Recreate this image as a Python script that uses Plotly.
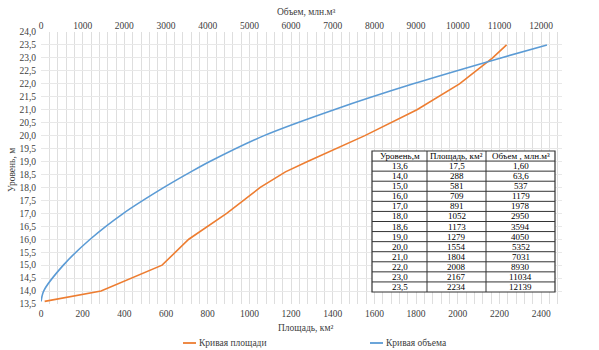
import plotly.graph_objects as go

levels = [13.6, 14.0, 15.0, 16.0, 17.0, 18.0, 18.6, 19.0, 20.0, 21.0, 22.0, 23.0, 23.5]
area = [17.5, 288, 581, 709, 891, 1052, 1173, 1279, 1554, 1804, 2008, 2167, 2234]
volume = [1.60, 63.6, 537, 1179, 1978, 2950, 3594, 4050, 5352, 7031, 8930, 11034, 12139]

level_txt = ["13,6", "14,0", "15,0", "16,0", "17,0", "18,0", "18,6", "19,0", "20,0", "21,0", "22,0", "23,0", "23,5"]
area_txt = ["17,5", "288", "581", "709", "891", "1052", "1173", "1279", "1554", "1804", "2008", "2167", "2234"]
vol_txt = ["1,60", "63,6", "537", "1179", "1978", "2950", "3594", "4050", "5352", "7031", "8930", "11034", "12139"]
headers = ["Уровень,м", "Площадь, км²", "Объем , млн.м³"]
series_names = ["Кривая площади", "Кривая объема"]

FONT = "Liberation Serif"
ORANGE = "#ED7D31"
BLUE = "#5B9BD5"
GRID = "#DEDEDE"
TXT = "#404040"

W, H = 599, 350
ML, MR, MT, MB = 41, 37, 32, 46
PW, PH = W - ML - MR, H - MT - MB


def px(xp):
    return (xp - ML) / PW


def py(yp):
    return (H - MB - yp) / PH


fig = go.Figure()
fig.add_trace(go.Scatter(x=area, y=levels, mode="lines", name=series_names[0],
                         line=dict(color=ORANGE, width=1.6), xaxis="x", yaxis="y",
                         showlegend=False))
fig.add_trace(go.Scatter(x=volume, y=levels, mode="lines", name=series_names[1],
                         line=dict(color=BLUE, width=1.6, shape="spline", smoothing=0.8),
                         xaxis="x2", yaxis="y", showlegend=False))

# table drawn with shapes + annotations
col_edges = [372, 427, 486, 555]
t_top, t_bot = 151, 292
rows = [headers] + [[a, b, c] for a, b, c in zip(level_txt, area_txt, vol_txt)]
n = len(rows)
rh = (t_bot - t_top) / n
shapes = []
shapes.append(dict(type="rect", xref="paper", yref="paper",
                   x0=px(col_edges[0]), x1=px(col_edges[-1]), y0=py(t_bot), y1=py(t_top),
                   fillcolor="white", line=dict(color="#333333", width=1.2), layer="above"))
for i in range(1, n):
    yy = py(t_top + i * rh)
    shapes.append(dict(type="line", xref="paper", yref="paper",
                       x0=px(col_edges[0]), x1=px(col_edges[-1]), y0=yy, y1=yy,
                       line=dict(color="#333333", width=1), layer="above"))
for xe in col_edges[1:-1]:
    shapes.append(dict(type="line", xref="paper", yref="paper",
                       x0=px(xe), x1=px(xe), y0=py(t_bot), y1=py(t_top),
                       line=dict(color="#333333", width=1), layer="above"))

annotations = []
for i, row in enumerate(rows):
    yc = py(t_top + (i + 0.5) * rh)
    for j, val in enumerate(row):
        xc = px((col_edges[j] + col_edges[j + 1]) / 2)
        annotations.append(dict(text=val, xref="paper", yref="paper", x=xc, y=yc,
                                xanchor="center", yanchor="middle", showarrow=False,
                                font=dict(family=FONT, size=9, color="black")))

annotations += [
    dict(text="Объем, млн.м³", xref="paper", yref="paper", x=px(306), y=py(12),
         xanchor="center", yanchor="middle", showarrow=False,
         font=dict(family=FONT, size=9.5, color=TXT)),
    dict(text="Площадь, км²", xref="paper", yref="paper", x=px(305), y=py(328),
         xanchor="center", yanchor="middle", showarrow=False,
         font=dict(family=FONT, size=9.5, color=TXT)),
    dict(text="Уровень, м", xref="paper", yref="paper", x=px(12), y=py(170),
         xanchor="center", yanchor="middle", textangle=-90, showarrow=False,
         font=dict(family=FONT, size=9.5, color=TXT)),
]

# manual legend (short line samples as in the reference)
legend_items = [(series_names[0], ORANGE, 183, 196), (series_names[1], BLUE, 370, 383)]
for name, col, x0, x1 in legend_items:
    shapes.append(dict(type="line", xref="paper", yref="paper",
                       x0=px(x0), x1=px(x1), y0=py(343), y1=py(343),
                       line=dict(color=col, width=1.8)))
    annotations.append(dict(text=name, xref="paper", yref="paper", x=px(x1 + 1), y=py(343),
                            xanchor="left", yanchor="middle", showarrow=False,
                            font=dict(family=FONT, size=9.5, color=TXT)))

fig.update_layout(
    width=W, height=H,
    margin=dict(l=ML, r=MR, t=MT, b=MB, autoexpand=False),
    paper_bgcolor="white", plot_bgcolor="white",
    separators=", ",
    font=dict(family=FONT, size=9.5, color=TXT),
    showlegend=False,
    xaxis=dict(range=[0, 2500], dtick=200, tick0=0, showgrid=True, gridcolor=GRID,
               gridwidth=1, zeroline=False, showline=False, ticks="",
               minor=dict(dtick=40, showgrid=True, gridcolor=GRID, gridwidth=1),
               tickfont=dict(family=FONT, size=9.5, color=TXT), ticklabelstandoff=2),
    xaxis2=dict(range=[0, 12500], dtick=1000, tick0=0, overlaying="x", side="top",
                showgrid=False, zeroline=False, showline=False, ticks="", tickformat="d",
                tickfont=dict(family=FONT, size=9.5, color=TXT)),
    yaxis=dict(range=[13.5, 24.0], dtick=0.5, tick0=13.5, tickformat=".1f",
               showgrid=True, gridcolor="#E8E8E8", zeroline=False, showline=False, ticks="",
               tickfont=dict(family=FONT, size=9.5, color=TXT), ticklabelstandoff=4),
    shapes=shapes,
    annotations=annotations,
)

fig.write_html("out.html")
